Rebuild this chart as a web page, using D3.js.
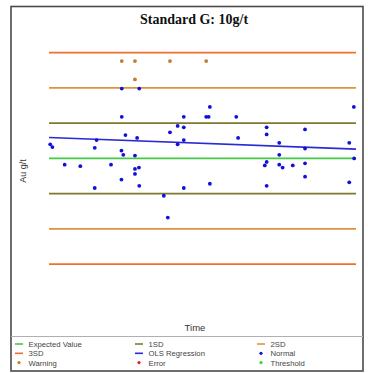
<!DOCTYPE html>
<html>
<head>
<meta charset="utf-8">
<script src="https://cdn.jsdelivr.net/npm/d3@7"></script>
<style>
  html, body { margin: 0; padding: 0; background: #fff; }
  svg { display: block; }
</style>
</head>
<body>
<svg id="chart" width="368" height="373"></svg>
<script>
// Control chart for reference standard G (10 g/t Au)
const title = "Standard G: 10g/t";
const expectedValue = 10;
const stdDev = 0.5;

// Assays inside the control limits: day of batch, Au g/t
const normalDays = [0.4, 1.1, 5.1, 10.2, 14.9, 15.5, 14.9, 20.2, 23.6, 24.2, 24.9, 23.6,
  28.7, 28.0, 28.0, 29.3, 28.0, 29.4, 23.7, 29.4, 23.7, 37.4, 38.7, 39.4, 41.9, 43.9,
  43.9, 43.9, 41.9, 43.9, 51.2, 52.0, 52.4, 52.4, 61.0, 61.6, 70.9, 70.9, 75.0, 75.0,
  70.9, 70.3, 75.0, 76.1, 79.4, 70.9, 83.4, 83.4, 83.4, 83.4, 97.8, 99.4, 97.8, 99.3];
const normalValues = [10.20, 10.16, 9.91, 9.89, 10.15, 10.26, 9.58, 9.91, 10.11, 10.05, 10.33, 9.70,
  10.29, 10.04, 9.85, 9.87, 9.78, 9.61, 10.99, 10.99, 10.59, 9.47, 9.16, 10.37, 10.46, 10.44,
  10.59, 10.26, 10.20, 9.58, 10.59, 10.59, 10.73, 9.64, 10.59, 10.29, 10.44, 10.34, 10.22, 10.05,
  9.95, 9.90, 9.91, 9.87, 9.90, 9.61, 10.41, 10.14, 9.93, 9.74, 10.22, 10.00, 9.66, 10.73];

// Assays beyond 2SD
const warningDays = [23.7, 28.0, 39.4, 51.2, 28.0];
const warningValues = [11.38, 11.38, 11.38, 11.38, 11.12];

// Control limit bands, in standard deviations from the expected value
const sdLevels = [1, 2, 3];
const legendItems = [
  { label: "Expected Value", kind: "line", color: "#45c845" },
  { label: "1SD", kind: "line", color: "#7d7a30" },
  { label: "2SD", kind: "line", color: "#e0923a" },
  { label: "3SD", kind: "line", color: "#f0702a" },
  { label: "OLS Regression", kind: "line", color: "#2a2ad6" },
  { label: "Normal", kind: "dot", color: "#1010d8" },
  { label: "Warning", kind: "dot", color: "#c87a30" },
  { label: "Error", kind: "dot", color: "#e01e3c" },
  { label: "Threshold", kind: "dot", color: "#30d83a" }
];
const colorOf = Object.fromEntries(legendItems.map(d => [d.label, d.color]));

const svg = d3.select("#chart");

const x = d3.scaleLinear().domain([0, 100]).range([49, 356]);
const y = d3.scaleLinear().domain([7.75, 11.75]).range([317, 35]);

// frame
svg.append("rect")
  .attr("x", 11).attr("y", 6.5).attr("width", 352).attr("height", 364.5)
  .attr("fill", "#fff").attr("stroke", "#4a4a4a").attr("stroke-width", 1.6);

svg.append("text")
  .attr("x", 194).attr("y", 23.5)
  .attr("text-anchor", "middle")
  .attr("font-family", "'Liberation Serif', 'Times New Roman', serif")
  .attr("font-weight", "bold").attr("font-size", 14)
  .attr("fill", "#111")
  .text(title);

// horizontal reference lines
const refLines = [{ v: expectedValue, c: colorOf["Expected Value"] }];
sdLevels.forEach(k => {
  const c = colorOf[k + "SD"];
  refLines.push({ v: expectedValue + k * stdDev, c });
  refLines.push({ v: expectedValue - k * stdDev, c });
});
const [x0, x1] = x.domain();
svg.append("g").selectAll("line").data(refLines).join("line")
  .attr("x1", x(x0)).attr("x2", x(x1))
  .attr("y1", d => y(d.v)).attr("y2", d => y(d.v))
  .attr("stroke", d => d.c).attr("stroke-width", 1.6);

// ordinary least squares over every assay
const allDays = normalDays.concat(warningDays);
const allValues = normalValues.concat(warningValues);
const mx = d3.mean(allDays), my = d3.mean(allValues);
const sxy = d3.sum(allDays, (d, i) => (d - mx) * (allValues[i] - my));
const sxx = d3.sum(allDays, d => (d - mx) * (d - mx));
const slope = sxy / sxx, intercept = my - slope * mx;
svg.append("line")
  .attr("x1", x(x0)).attr("x2", x(x1))
  .attr("y1", y(intercept + slope * x0)).attr("y2", y(intercept + slope * x1))
  .attr("stroke", colorOf["OLS Regression"]).attr("stroke-width", 1.7);

// points
function drawPoints(days, values, color) {
  svg.append("g").selectAll("circle").data(days).join("circle")
    .attr("cx", d => x(d)).attr("cy", (d, i) => y(values[i]))
    .attr("r", 1.9).attr("fill", color);
}
drawPoints(normalDays, normalValues, colorOf["Normal"]);
drawPoints(warningDays, warningValues, colorOf["Warning"]);

// axis titles
svg.append("text")
  .attr("transform", "translate(26,171) rotate(-90)")
  .attr("text-anchor", "middle")
  .attr("font-family", "'Liberation Sans', Arial, sans-serif")
  .attr("font-size", 9).attr("fill", "#333")
  .text("Au g/t");
svg.append("text")
  .attr("x", 195).attr("y", 330.5)
  .attr("text-anchor", "middle")
  .attr("font-family", "'Liberation Sans', Arial, sans-serif")
  .attr("font-size", 9.5).attr("fill", "#333")
  .text("Time");

// legend
svg.append("line")
  .attr("x1", 11).attr("x2", 363).attr("y1", 336.5).attr("y2", 336.5)
  .attr("stroke", "#b0b0b0").attr("stroke-width", 1.2);

const colX = [15, 135, 257];
const rowY = [344, 353.3, 362.6];
const lg = svg.append("g").selectAll("g").data(legendItems).join("g")
  .attr("transform", (d, i) => `translate(${colX[i % 3]},${rowY[Math.floor(i / 3)]})`);
lg.filter(d => d.kind === "line").append("line")
  .attr("x1", 0).attr("x2", 8).attr("y1", 0).attr("y2", 0)
  .attr("stroke", d => d.color).attr("stroke-width", 1.6);
lg.filter(d => d.kind === "dot").append("circle")
  .attr("cx", 4).attr("cy", 0).attr("r", 1.6)
  .attr("fill", d => d.color);
lg.append("text")
  .attr("x", 13.5).attr("y", 3)
  .attr("font-family", "'Liberation Sans', Arial, sans-serif")
  .attr("font-size", 7.7).attr("fill", "#444")
  .text(d => d.label);
</script>
</body>
</html>
